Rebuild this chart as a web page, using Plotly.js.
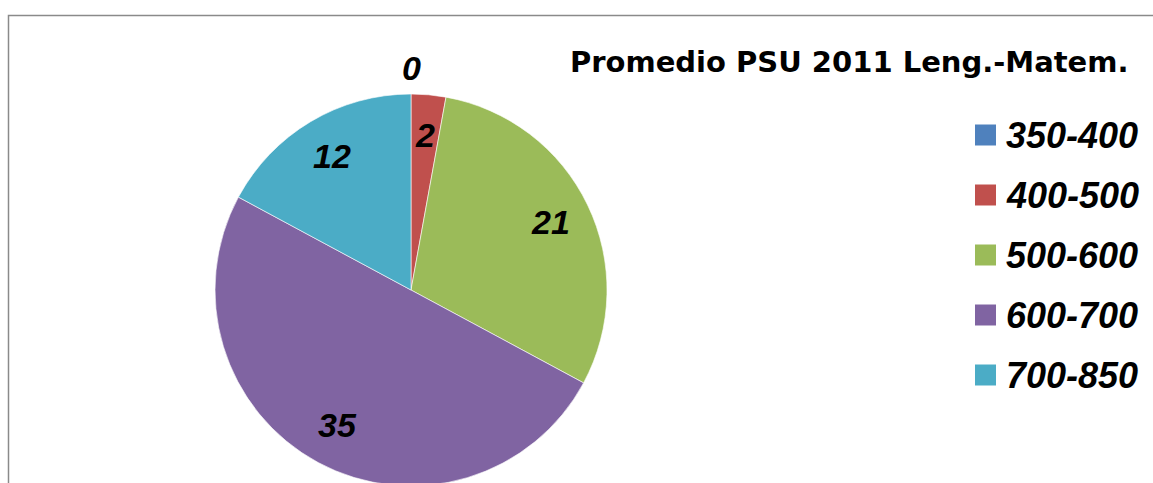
<!DOCTYPE html>
<html>
<head>
<meta charset="utf-8">
<script src="https://cdn.plot.ly/plotly-3.0.1.min.js"></script>
<style>
html,body{margin:0;padding:0;overflow:hidden;background:#fff;width:1153px;height:483px;}
#chart{width:1153px;height:500px;}
</style>
</head>
<body>
<div id="chart"></div>
<script>
const categories = ["350-400", "400-500", "500-600", "600-700", "700-850"];
const values = [0, 2, 21, 35, 12];
const colors = ["#4F81BD", "#C0504D", "#9BBB59", "#8064A2", "#4BACC6"];
const chartTitle = "Promedio PSU 2011 Leng.-Matem.";

const W = 1153, H = 500;
const cx = 411, cy = 290, R = 196;
const px = x => x / W;
const py = y => 1 - y / H;

const numFont = {family: "Liberation Sans, Arial, sans-serif", size: 34, color: "#000", weight: "bold", style: "italic"};
const legFont = {family: "Liberation Sans, Arial, sans-serif", size: 36, color: "#000", weight: "bold", style: "italic"};

const annotations = [];
const shapes = [];

// data labels positioned along each slice's mid angle
const total = values.reduce((a, b) => a + b, 0);
let cum = 0;
values.forEach((v, i) => {
  const mid = (cum + v / 2) / total * 2 * Math.PI;
  cum += v;
  const r = v === 0 ? 1.13 * R : 0.79 * R;
  annotations.push({
    xref: "paper", yref: "paper",
    x: px(cx + r * Math.sin(mid)), y: py(cy - 1 - r * Math.cos(mid)),
    xanchor: "center", yanchor: "middle",
    text: String(v), showarrow: false, font: numFont
  });
});

// title
annotations.push({
  xref: "paper", yref: "paper", x: px(849), y: py(62),
  xanchor: "center", yanchor: "middle", showarrow: false,
  text: "<b>" + chartTitle + "</b>",
  font: {family: "DejaVu Sans, sans-serif", size: 29, color: "#000"}
});

// legend
categories.forEach((c, i) => {
  const yc = 135 + 60 * i;
  shapes.push({
    type: "rect", xref: "paper", yref: "paper",
    x0: px(975), x1: px(996), y0: py(yc - 10.5), y1: py(yc + 10.5),
    fillcolor: colors[i], line: {width: 0}
  });
  annotations.push({
    xref: "paper", yref: "paper", x: px(1004), y: py(yc),
    xanchor: "left", yanchor: "middle", showarrow: false,
    text: c, font: legFont
  });
});

// chart border (top and left visible)
shapes.push({
  type: "rect", xref: "paper", yref: "paper",
  x0: px(8.5), x1: px(1160), y0: py(15.5), y1: py(520),
  line: {color: "#8a8a8a", width: 1.5}, fillcolor: "rgba(0,0,0,0)"
});

const trace = {
  type: "pie",
  labels: categories,
  values: values,
  sort: false,
  direction: "clockwise",
  rotation: 0,
  textinfo: "none",
  hoverinfo: "label+value",
  marker: {colors: colors, line: {color: "rgba(255,255,255,0.6)", width: 1}},
  domain: {x: [px(cx - R), px(cx + R)], y: [py(cy + R), py(cy - R)]},
  showlegend: false
};

const layout = {
  width: W, height: H,
  margin: {l: 0, r: 0, t: 0, b: 0},
  paper_bgcolor: "#fff",
  showlegend: false,
  annotations: annotations,
  shapes: shapes
};

Plotly.newPlot("chart", [trace], layout, {displayModeBar: false, staticPlot: true});
</script>
</body>
</html>
